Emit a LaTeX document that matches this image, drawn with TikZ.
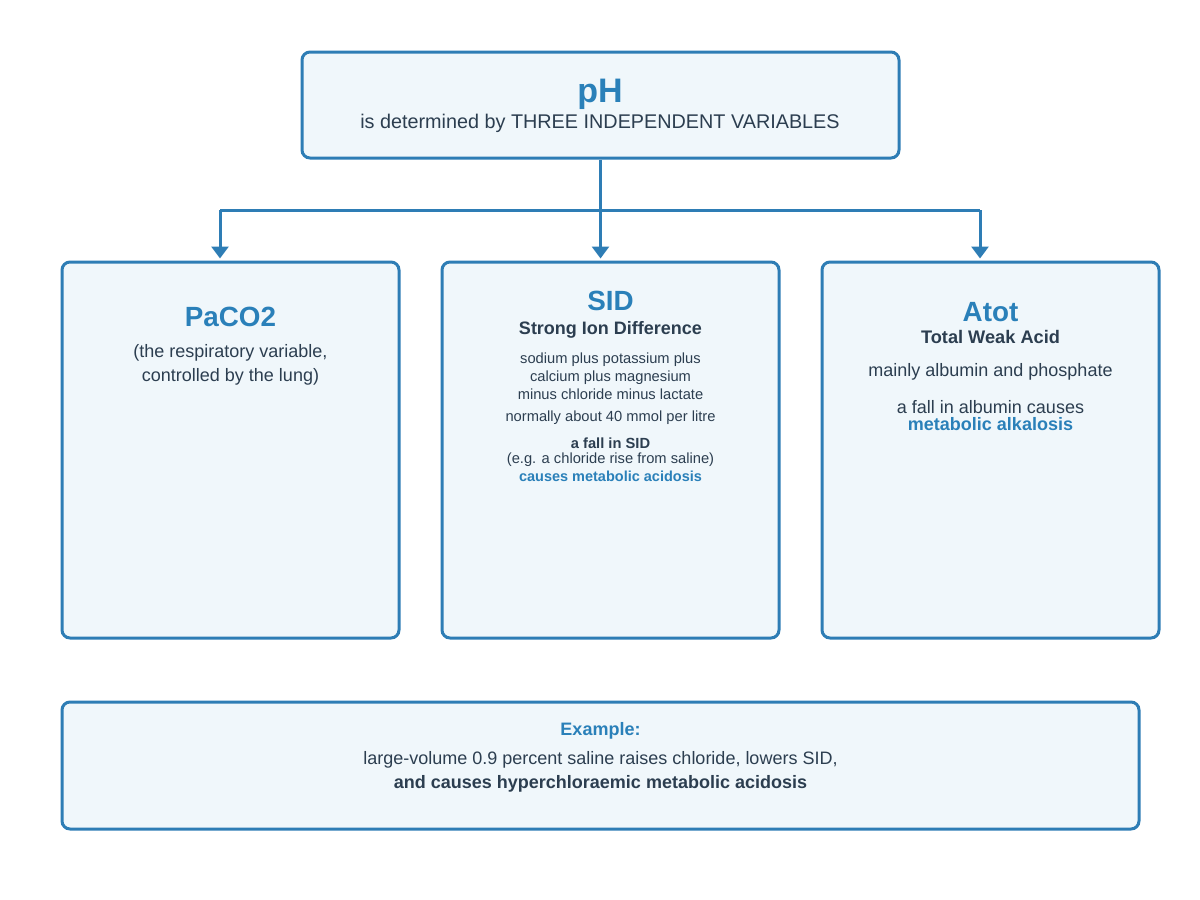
\documentclass[tikz,border=0pt]{standalone}
\usepackage{fontspec}
\setmainfont{Liberation Sans}
\usetikzlibrary{arrows.meta}
\definecolor{bdr}{HTML}{2E7DB5}
\definecolor{boxfill}{HTML}{F0F7FB}
\definecolor{ttl}{HTML}{2A80B9}
\definecolor{txt}{HTML}{2C3E50}
\newcommand{\fsz}[1]{\fontsize{#1}{#1}\selectfont}
\tikzset{
  box/.style={draw=bdr, fill=boxfill, line width=3pt, rounded corners=8pt, inner sep=0pt},
  conn/.style={draw=bdr, line width=3pt},
  arr/.style={conn, -{Triangle[width=17pt,length=12pt]}, shorten >=2pt},
  lbl/.style={anchor=base, inner sep=0pt, text=txt},
  title/.style={lbl, text=ttl, font=\bfseries\fsz{27.8}},
}
\begin{document}
\begin{tikzpicture}[x=1pt,y=-1pt]
\useasboundingbox (0,0) rectangle (1200,900);
% boxes
\node[box, minimum width=597pt, minimum height=106pt] (ph) at (600.5,105) {};
\node[box, minimum width=337pt, minimum height=376pt] (paco) at (230.5,450) {};
\node[box, minimum width=337pt, minimum height=376pt] (sid) at (610.5,450) {};
\node[box, minimum width=337pt, minimum height=376pt] (atot) at (990.5,450) {};
\node[box, minimum width=1077pt, minimum height=127pt] (ex) at (600.5,765.5) {};
% connectors
\coordinate (jl) at (220,210);
\coordinate (jc) at (600.5,210);
\coordinate (jr) at (980,210);
\draw[arr] (ph.south) -- (ph.south |- sid.north);
\draw[conn] (jl) -- (jr);
\draw[arr] (jl) -- (jl |- paco.north);
\draw[arr] (jr) -- (jr |- atot.north);
% top texts
\node[lbl, text=ttl, font=\bfseries\fsz{34}] (phT) at (600,102) {pH};
\node[lbl, font=\fsz{19.8}] (phS) at (600,128) {is determined by THREE INDEPENDENT VARIABLES};
% PaCO2
\node[title] (pacoT) at (230.5,326) {PaCO2};
\node[lbl, font=\fsz{18}] (paco1) at (230.5,357) {(the respiratory variable,};
\node[lbl, font=\fsz{18}] (paco2) at (230.5,381.5) {controlled by the lung)};
% SID
\node[title] (sidT) at (610.5,310.5) {SID};
\node[lbl, font=\bfseries\fsz{18}] (sid1) at (610.5,334) {Strong Ion Difference};
\node[lbl, font=\fsz{14.7}] (sid2) at (610.5,363) {sodium plus potassium plus};
\node[lbl, font=\fsz{14.7}] (sid3) at (610.5,381) {calcium plus magnesium};
\node[lbl, font=\fsz{14.7}] (sid4) at (610.5,399) {minus chloride minus lactate};
\node[lbl, font=\fsz{14.7}] (sid5) at (610.5,421.5) {normally about 40 mmol per litre};
\node[lbl, font=\bfseries\fsz{14.7}] (sid6) at (610.5,448) {a fall in SID};
\node[lbl, font=\fsz{14.7}] (sid7) at (610.5,463) {(e.g. a chloride rise from saline)};
\node[lbl, text=ttl, font=\bfseries\fsz{14.5}] (sid8) at (610.5,481) {causes metabolic acidosis};
% Atot
\node[title] (atotT) at (990.5,321.5) {Atot};
\node[lbl, font=\bfseries\fsz{18.2}] (atot1) at (990.5,343.3) {Total Weak Acid};
\node[lbl, font=\fsz{18}] (atot2) at (990.5,376.7) {mainly albumin and phosphate};
\node[lbl, font=\fsz{18}] (atot3) at (990.5,413.3) {a fall in albumin causes};
\node[lbl, text=ttl, font=\bfseries\fsz{18}] (atot4) at (990.5,430) {metabolic alkalosis};
% Example
\node[lbl, text=ttl, font=\bfseries\fsz{18}] (ex1) at (600.5,735) {Example:};
\node[lbl, font=\fsz{18}] (ex2) at (600.5,764) {large-volume 0.9 percent saline raises chloride, lowers SID,};
\node[lbl, font=\bfseries\fsz{18}] (ex3) at (600.5,788.3) {and causes hyperchloraemic metabolic acidosis};
\end{tikzpicture}
\end{document}
